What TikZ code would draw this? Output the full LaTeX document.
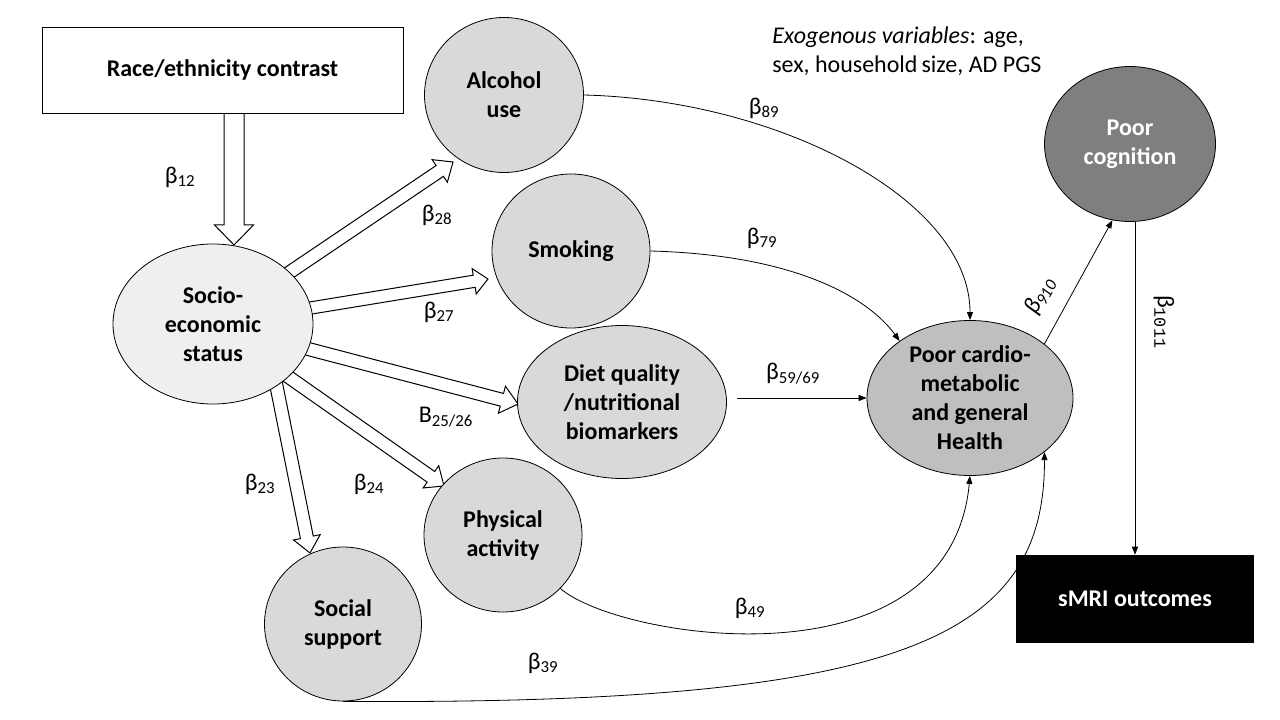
\documentclass[tikz,border=0pt]{standalone}
\usepackage{fontspec}
\setmainfont{Carlito}
\newfontfamily\monofont{Liberation Mono}
\usetikzlibrary{calc,arrows.meta,shapes.geometric}
\pgfdeclarelayer{bg}
\pgfsetlayers{bg,main}
\definecolor{lightg}{HTML}{D9D9D9}
\definecolor{paleg}{HTML}{EFEFEF}
\definecolor{midg}{HTML}{BFBFBF}
\definecolor{darkg}{HTML}{7F7F7F}
\newcommand\fatarrow[5]{%
  \coordinate (fah) at ($(#2)!#5!(#1)$);
  \path[fatline] ($(#1)!#3!90:(#2)$) -- ($(fah)!#3!90:(#2)$) -- ($(fah)!#4!90:(#2)$) -- (#2)
    -- ($(fah)!#4!-90:(#2)$) -- ($(fah)!#3!-90:(#2)$) -- ($(#1)!#3!-90:(#2)$) -- cycle;}
\begin{document}
\begin{tikzpicture}[x=0.75pt,y=-0.75pt,
  every node/.style={font=\fontsize{18pt}{21.8pt}\selectfont},
  ell/.style={ellipse, draw=black, line width=0.6pt, inner sep=0pt},
  nlabel/.style={font=\fontsize{18pt}{21.8pt}\selectfont\bfseries, align=center, inner sep=0pt},
  fatline/.style={draw=black, fill=white, line width=0.75pt, line join=miter},
  con/.style={draw=black, line width=0.6pt, -{Triangle[length=6pt,width=4.5pt]}},
  beta/.style={font=\fontsize{18pt}{21.8pt}\selectfont, inner sep=0pt}]
\useasboundingbox (0,0) rectangle (1280,720);

% nodes
\node[draw, line width=0.6pt, fill=white, minimum width=270.75pt, minimum height=64.5pt, inner sep=0pt,
      font=\fontsize{18pt}{21.8pt}\selectfont\bfseries] (race) at (222.5,70) {Race/ethnicity contrast};
\node[ell, fill=paleg, minimum width=150pt, minimum height=120pt,
      label={[nlabel]center:Socio-\\economic\\status}] (ses) at (213,324) {};
\node[ell, fill=lightg, minimum width=119.25pt, minimum height=116.25pt,
      label={[nlabel]center:Alcohol\\use}] (alcohol) at (504,95) {};
\node[ell, fill=lightg, minimum width=118.5pt, minimum height=115.5pt,
      label={[nlabel]center:Smoking}] (smoking) at (571,251) {};
\node[ell, fill=lightg, minimum width=156.75pt, minimum height=114.75pt,
      label={[nlabel]center:Diet quality\\/nutritional\\biomarkers}] (diet) at (622,402) {};
\node[ell, fill=lightg, minimum width=118.5pt, minimum height=115.5pt,
      label={[nlabel]center:Physical\\activity}] (physical) at (503,535) {};
\node[ell, fill=lightg, minimum width=117.75pt, minimum height=115.5pt,
      label={[nlabel]center:Social\\support}] (social) at (343,624) {};
\node[ell, fill=midg, minimum width=154.5pt, minimum height=116.25pt,
      label={[nlabel]center:Poor cardio-\\metabolic\\and general\\Health}] (cardio) at (970,398) {};
\node[ell, fill=darkg, minimum width=128.25pt, minimum height=116.25pt,
      label={[nlabel,text=white]center:Poor\\cognition}] (cognition) at (1130,144) {};
\node[fill=black, text=white, minimum width=178.5pt, minimum height=66pt, inner sep=0pt,
      font=\fontsize{18pt}{21.8pt}\selectfont\bfseries] (smri) at (1135,599) {sMRI outcomes};

\node[anchor=west, align=left, inner sep=0pt] (exo) at (772,51)
  {\textit{Exogenous variables}: age,\\sex, household\,size, AD PGS};

% fat arrow end points
\coordinate (s12) at (234,80);
\coordinate (t12) at (234,245);
\coordinate (t28) at (453,162);
\coordinate (t27) at (488,279);
\coordinate (t25) at (518,404);
\coordinate (t24) at (444,486);
\coordinate (s23) at (263,319);
\coordinate (t23) at (310,553);

\begin{pgfonlayer}{bg}
  \fill[white] (0,0) rectangle (1280,720);
  \fatarrow{s12}{t12}{7.5pt}{14.6pt}{15pt}
  \fatarrow{ses.center}{t28}{4.9pt}{10.2pt}{12pt}
  \fatarrow{ses.center}{t27}{4.6pt}{9.6pt}{10.5pt}
  \fatarrow{ses.center}{t25}{4.9pt}{10.5pt}{12.5pt}
  \fatarrow{ses.center}{t24}{4.9pt}{10.2pt}{12pt}
  \fatarrow{s23}{t23}{4.9pt}{10.2pt}{12pt}
\end{pgfonlayer}

% connectors
\draw[con] (alcohol.east) .. controls (780,100) and (970,200) .. (cardio.north);
\draw[con] (smoking.east) .. controls (800,255) and (870,300) .. (cardio.141);
\draw[con] ($(cardio.west -| diet.east)+(10,0)$) -- (cardio.west);
\draw[con] (physical.-43) .. controls (620,640) and (950,690) .. (cardio.south);
\draw[con] (social.south) .. controls (900,705) and (1045,640) .. (cardio.-36);
\draw[con] (cardio.36) -- (cognition.257);
\draw[con] (smri.north |- cognition.south) -- (smri.north);

% labels
\node[beta] (b12) at (180,177) {β\textsubscript{12}};
\node[beta] (b28) at (437,215) {β\textsubscript{28}};
\node[beta] (b27) at (439,312) {β\textsubscript{27}};
\node[beta] (b2526) at (446,417) {B\textsubscript{25/26}};
\node[beta] (b23) at (260,484) {β\textsubscript{23}};
\node[beta] (b24) at (369,484) {β\textsubscript{24}};
\node[beta] (b89) at (764,108) {β\textsubscript{89}};
\node[beta] (b79) at (762,238) {β\textsubscript{79}};
\node[beta] (b5969) at (793,374) {β\textsubscript{59/69}};
\node[beta] (b49) at (750,608) {β\textsubscript{49}};
\node[beta] (b39) at (543,663) {β\textsubscript{39}};
\node[beta, rotate=61] (b910) at (1040,296) {\itshape β\textsubscript{910}};
\node[beta, rotate=-90] (b1011) at (1164,322) {β\textsubscript{\monofont 1011}};
\end{tikzpicture}
\end{document}
